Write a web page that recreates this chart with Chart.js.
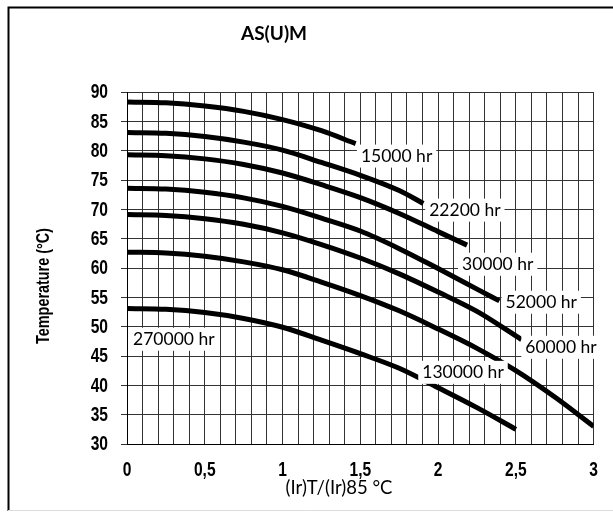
<!DOCTYPE html>
<html>
<head>
<meta charset="utf-8">
<script src="https://cdn.jsdelivr.net/npm/chart.js@4.4.0/dist/chart.umd.min.js"></script>
<style>
  html, body { margin: 0; padding: 0; background: #fff; }
</style>
</head>
<body>
<canvas id="chart" width="613" height="512"></canvas>
<script>
// Life curves: x = (Ir)T/(Ir)85, y = temperature in °C
const curveNames = ["15000 hr", "22200 hr", "30000 hr", "52000 hr", "60000 hr", "130000 hr", "270000 hr"];

const x15000 = [0, 0.25, 0.5, 0.75, 1, 1.25, 1.47];
const t15000 = [88.3, 88.15, 87.6, 86.7, 85.3, 83.4, 81.2];

const x22200 = [0, 0.25, 0.5, 0.75, 1, 1.25, 1.5, 1.75, 1.905];
const t22200 = [83.1, 82.95, 82.4, 81.45, 80.1, 78.0, 75.8, 73.2, 71.0];

const x30000 = [0, 0.25, 0.5, 0.75, 1, 1.25, 1.5, 1.75, 2, 2.186];
const t30000 = [79.3, 79.15, 78.6, 77.65, 76.2, 74.2, 72.0, 69.3, 66.2, 63.9];

const x52000 = [0, 0.25, 0.5, 0.75, 1, 1.25, 1.5, 1.75, 2, 2.25, 2.394];
const t52000 = [73.6, 73.45, 72.9, 71.95, 70.5, 68.5, 66.3, 63.3, 59.9, 56.4, 54.4];

const x60000 = [0, 0.25, 0.5, 0.75, 1, 1.25, 1.5, 1.75, 2, 2.25, 2.536];
const t60000 = [69.1, 68.95, 68.4, 67.45, 66.0, 64.0, 61.7, 59.0, 55.9, 52.6, 47.8];

const x130000 = [0, 0.25, 0.5, 0.75, 1, 1.25, 1.5, 1.75, 2, 2.25, 2.5, 2.75, 3];
const t130000 = [62.7, 62.55, 62.0, 61.05, 59.7, 57.6, 55.3, 52.7, 49.6, 46.3, 42.5, 38.0, 33.0];

const x270000 = [0, 0.25, 0.5, 0.75, 1, 1.25, 1.5, 1.75, 2, 2.25, 2.5];
const t270000 = [53.1, 52.95, 52.4, 51.4, 49.9, 47.7, 45.4, 42.9, 39.6, 36.2, 32.5];

// where each curve's label sits, in chart units
const labelX = [1.733, 2.172, 2.383, 2.663, 2.790, 2.160, 0.301];
const labelY = [79.16, 69.95, 60.73, 54.25, 46.57, 42.3, 47.94];

const yTicks = [30, 35, 40, 45, 50, 55, 60, 65, 70, 75, 80, 85, 90];

const allX = [x15000, x22200, x30000, x52000, x60000, x130000, x270000];
const allT = [t15000, t22200, t30000, t52000, t60000, t130000, t270000];

const datasets = curveNames.map((name, i) => ({
  label: name,
  data: allX[i].map((x, j) => ({ x: x, y: allT[i][j] })),
  borderColor: "#000",
  borderWidth: 5,
  borderCapStyle: "butt",
  pointRadius: 0,
  cubicInterpolationMode: "monotone",
  fill: false
}));

// the reference uses a condensed bold face; squeeze Liberation Sans Bold sideways
const narrowFont = "bold 19.5px 'Liberation Sans', Arial, sans-serif";
const squeeze = 0.8;

function narrowText(ctx, text, x, y, align) {
  ctx.save();
  ctx.translate(x, y);
  ctx.scale(squeeze, 1);
  ctx.textAlign = align;
  ctx.fillText(text, 0, 0);
  ctx.restore();
}

const decorations = {
  id: "decorations",
  beforeDraw(chart) {
    const ctx = chart.ctx;
    ctx.save();
    ctx.fillStyle = "#fff";
    ctx.fillRect(0, 0, chart.width, chart.height);
    ctx.strokeStyle = "#000";
    ctx.lineWidth = 2;
    ctx.beginPath();
    ctx.moveTo(8.5, 511);
    ctx.lineTo(8.5, 7.5);
    ctx.lineTo(613, 7.5);
    ctx.stroke();
    ctx.strokeStyle = "#ddd";
    ctx.lineWidth = 1;
    ctx.beginPath();
    ctx.moveTo(8, 510.5);
    ctx.lineTo(613, 510.5);
    ctx.stroke();
    ctx.restore();
  },
  afterDatasetsDraw(chart) {
    const { ctx, scales } = chart;
    ctx.save();
    ctx.font = "17.5px Lato";
    ctx.textAlign = "center";
    ctx.textBaseline = "middle";
    curveNames.forEach((name, i) => {
      const cx = scales.x.getPixelForValue(labelX[i]);
      const cy = scales.y.getPixelForValue(labelY[i]);
      const w = ctx.measureText(name).width;
      ctx.fillStyle = "#fff";
      ctx.fillRect(cx - w / 2 - 4, cy - 11, w + 8, 23);
      ctx.fillStyle = "#000";
      ctx.fillText(name, cx, cy + 1);
    });
    ctx.restore();
  },
  afterDraw(chart) {
    const { ctx, scales } = chart;
    ctx.save();
    ctx.fillStyle = "#000";
    ctx.textBaseline = "middle";

    // tick labels
    ctx.font = narrowFont;
    const ys = scales.y;
    ys.ticks.forEach(t => {
      narrowText(ctx, String(t.value), ys.left + 108, ys.getPixelForValue(t.value) + 1, "right");
    });
    const xs = scales.x;
    xs.ticks.forEach(t => {
      if (t.label) narrowText(ctx, t.label, xs.getPixelForValue(t.value), 471, "center");
    });

    // titles
    ctx.textAlign = "center";
    ctx.font = "bold 19px Lato";
    ctx.fillText("AS(U)M", 274, 34);
    ctx.font = "18.5px Lato";
    ctx.fillText("(Ir)T/(Ir)85 °C", 339, 488);
    ctx.translate(44, 286);
    ctx.rotate(-Math.PI / 2);
    ctx.font = "bold 18px 'Liberation Sans', Arial, sans-serif";
    narrowText(ctx, "Temperature (°C)", 0, 0, "center");
    ctx.restore();
  }
};

new Chart(document.getElementById("chart"), {
  type: "line",
  data: { datasets: datasets },
  options: {
    responsive: false,
    animation: false,
    layout: { padding: { top: 92, right: 15, left: 0, bottom: 0 } },
    plugins: { legend: { display: false }, tooltip: { enabled: false } },
    scales: {
      x: {
        type: "linear",
        min: 0,
        max: 3,
        afterFit: s => { s.height = 68; },
        border: { color: "#000", width: 1 },
        grid: { color: "#333", lineWidth: 1, drawTicks: false },
        ticks: {
          stepSize: 0.1,
          autoSkip: false,
          maxRotation: 0,
          padding: 16,
          color: "rgba(0,0,0,0)",
          callback: v => Math.abs(v * 2 - Math.round(v * 2)) < 1e-6 ? String(Math.round(v * 2) / 2).replace(".", ",") : ""
        }
      },
      y: {
        min: 30,
        max: 90,
        afterFit: s => { s.width = 127; },
        afterBuildTicks: s => { s.ticks = yTicks.map(v => ({ value: v })); },
        border: { color: "#000", width: 1 },
        grid: { color: "#333", lineWidth: 1, tickLength: 6 },
        ticks: { padding: 13, color: "rgba(0,0,0,0)" }
      }
    }
  },
  plugins: [decorations]
});
</script>
</body>
</html>
